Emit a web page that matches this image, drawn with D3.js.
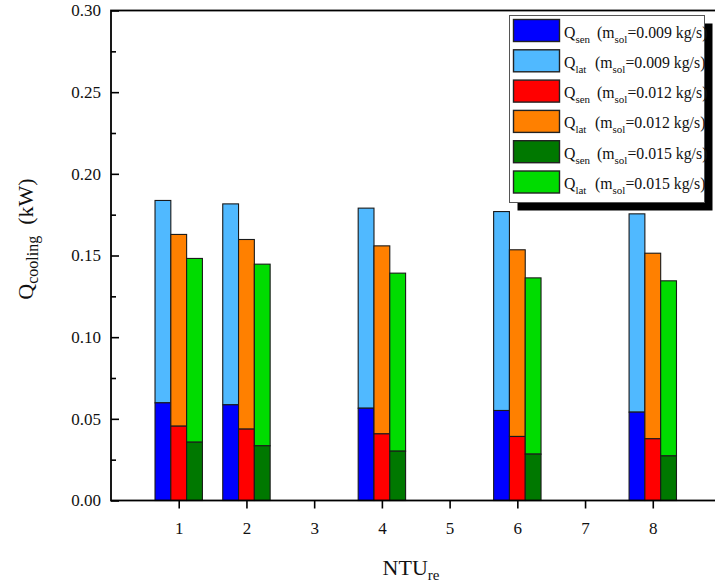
<!DOCTYPE html>
<html>
<head>
<meta charset="utf-8">
<script src="https://cdn.jsdelivr.net/npm/d3@7"></script>
<style>
  html, body { margin: 0; padding: 0; background: #fff; }
  svg { display: block; }
</style>
</head>
<body>
<svg id="chart" width="715" height="583" font-family="Liberation Serif"></svg>
<script>
// NTU_re values at which the cases were run
const ntuValues = [1, 2, 4, 6, 8];
const xTickValues = [1, 2, 3, 4, 5, 6, 7, 8];
const yTickValues = [0, 0.05, 0.10, 0.15, 0.20, 0.25, 0.30];

// Solution mass flow rates (kg/s)
const solutionFlows = ["0.009", "0.012", "0.015"];

// Sensible and latent cooling capacity (kW) per solution flow rate
const qSen009 = [0.0598, 0.0586, 0.0565, 0.0551, 0.0541];
const qLat009 = [0.1239, 0.1230, 0.1225, 0.1218, 0.1214];
const qSen012 = [0.0455, 0.0437, 0.0408, 0.0392, 0.0378];
const qLat012 = [0.1174, 0.1161, 0.1151, 0.1143, 0.1136];
const qSen015 = [0.0357, 0.0335, 0.0302, 0.0284, 0.0273];
const qLat015 = [0.1125, 0.1112, 0.1090, 0.1079, 0.1072];

const senColors = ["#0000ff", "#ff0000", "#007800"];
const latColors = ["#50b9ff", "#ff8000", "#00dc00"];

const FONT = "Liberation Serif";

const groups = [
  { flow: solutionFlows[0], sen: qSen009, lat: qLat009 },
  { flow: solutionFlows[1], sen: qSen012, lat: qLat012 },
  { flow: solutionFlows[2], sen: qSen015, lat: qLat015 }
];

const svg = d3.select("#chart");
const plot = { left: 111, right: 720.5, top: 10.5, bottom: 500.5 };

const x = d3.scaleLinear().domain([0, 9]).range([plot.left, plot.right]);
const y = d3.scaleLinear().domain([0, 0.30]).range([plot.bottom, plot.top]);

const groupWidth = 0.7;
const barWidth = groupWidth / groups.length;

// Stacked bars: sensible part at the bottom, latent part on top
const bars = svg.append("g");
groups.forEach((g, s) => {
  ntuValues.forEach((n, i) => {
    const x0 = x(n - groupWidth / 2 + s * barWidth);
    const x1 = x(n - groupWidth / 2 + (s + 1) * barWidth);
    const sen = g.sen[i], tot = g.sen[i] + g.lat[i];
    bars.append("rect")
      .attr("x", x0).attr("width", x1 - x0)
      .attr("y", y(tot)).attr("height", y(sen) - y(tot))
      .attr("fill", latColors[s]).attr("stroke", "#1a1a1a").attr("stroke-width", 1.1);
    bars.append("rect")
      .attr("x", x0).attr("width", x1 - x0)
      .attr("y", y(sen)).attr("height", y(0) - y(sen))
      .attr("fill", senColors[s]).attr("stroke", "#1a1a1a").attr("stroke-width", 1.1);
  });
});

// Frame
svg.append("rect")
  .attr("x", plot.left).attr("y", plot.top)
  .attr("width", plot.right - plot.left).attr("height", plot.bottom - plot.top)
  .attr("fill", "none").attr("stroke", "#000").attr("stroke-width", 1.8);

// Left axis: ticks pointing inward, with minor ticks
const yAxis = d3.axisRight(y).tickValues(yTickValues).tickSize(8).tickFormat("");
svg.append("g").attr("transform", `translate(${plot.left},0)`).call(yAxis)
  .call(g => g.select(".domain").remove())
  .call(g => g.selectAll("line").attr("stroke", "#000").attr("stroke-width", 1.6));
const yMinor = d3.axisRight(y).tickValues(d3.range(0.025, 0.30, 0.05)).tickSize(5).tickFormat("");
svg.append("g").attr("transform", `translate(${plot.left},0)`).call(yMinor)
  .call(g => g.select(".domain").remove())
  .call(g => g.selectAll("line").attr("stroke", "#000").attr("stroke-width", 1.6));
svg.append("g").selectAll("text").data(yTickValues).join("text")
  .attr("x", plot.left - 10).attr("y", d => y(d)).attr("dy", "0.35em")
  .attr("text-anchor", "end").attr("font-size", 17).attr("fill", "#111")
  .attr("font-family", FONT)
  .text(d => d3.format(".2f")(d));

// Bottom axis: ticks pointing outward
const xAxis = d3.axisBottom(x).tickValues(xTickValues).tickSize(8).tickPadding(13).tickFormat(d3.format("d"));
svg.append("g").attr("transform", `translate(0,${plot.bottom})`).call(xAxis)
  .attr("font-family", FONT)
  .call(g => g.select(".domain").remove())
  .call(g => g.selectAll("line").attr("stroke", "#000").attr("stroke-width", 1.6))
  .call(g => g.selectAll("text").attr("font-size", 17).attr("fill", "#111")
    .attr("font-family", FONT));

// Axis titles
const xt = svg.append("text").attr("x", 411).attr("y", 575)
  .attr("text-anchor", "middle").attr("font-size", 22).attr("fill", "#111")
  .attr("font-family", FONT);
xt.append("tspan").text("NTU");
xt.append("tspan").attr("font-size", 15).attr("dy", 5).text("re");

const yt = svg.append("text")
  .attr("transform", `translate(33,239) rotate(-90)`)
  .attr("text-anchor", "middle").attr("font-size", 22).attr("fill", "#111")
  .attr("font-family", FONT);
yt.append("tspan").text("Q");
yt.append("tspan").attr("font-size", 16).attr("dy", 5).text("cooling");
yt.append("tspan").attr("dy", -5).text("\u00a0\u00a0(kW)");

// Legend with drop shadow
const legend = svg.append("g");
const lg = { x: 509.5, y: 15.5, w: 195, h: 187, shadow: 8 };
legend.append("rect")
  .attr("x", lg.x + lg.shadow).attr("y", lg.y + lg.shadow)
  .attr("width", lg.w).attr("height", lg.h).attr("fill", "#000");
legend.append("rect")
  .attr("x", lg.x).attr("y", lg.y).attr("width", lg.w).attr("height", lg.h)
  .attr("fill", "#fff").attr("stroke", "#555").attr("stroke-width", 1);

const legendItems = [];
groups.forEach((g, s) => {
  legendItems.push({ kind: "sen", flow: g.flow, color: senColors[s] });
  legendItems.push({ kind: "lat", flow: g.flow, color: latColors[s] });
});

legendItems.forEach((item, i) => {
  const ry = 19.5 + i * 30.3;
  legend.append("rect")
    .attr("x", 513.5).attr("y", ry).attr("width", 46).attr("height", 22)
    .attr("fill", item.color).attr("stroke", "#222").attr("stroke-width", 1.4);
  const t = legend.append("text").attr("x", 564).attr("y", ry + 18)
    .attr("font-size", 15.8).attr("fill", "#111").attr("font-family", FONT);
  t.append("tspan").text("Q");
  t.append("tspan").attr("font-size", 11).attr("dy", 5).text(item.kind);
  t.append("tspan").attr("dy", -5).attr("x", item.kind === "lat" ? 595 : 597).text("(m");
  t.append("tspan").attr("font-size", 11).attr("dy", 5).text("sol");
  t.append("tspan").attr("dy", -5).text(`=${item.flow} kg/s)`);
});
</script>
</body>
</html>
